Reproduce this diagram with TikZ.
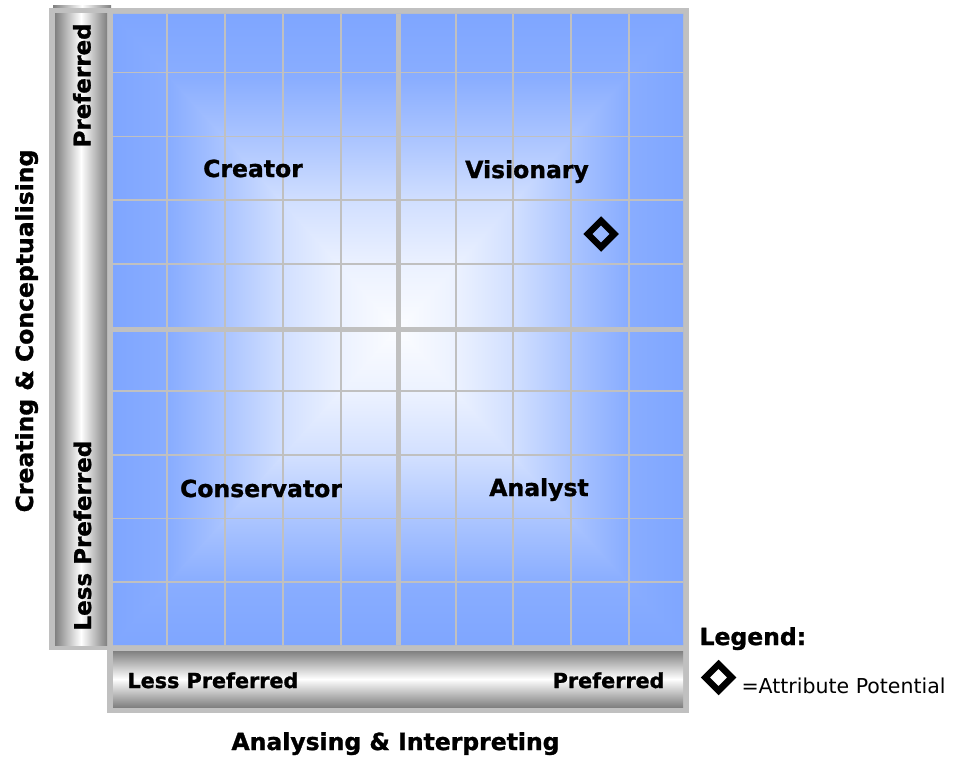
\documentclass[tikz,border=0pt]{standalone}
\usepackage{fontspec}
\setmainfont{DejaVu Sans}[BoldFeatures={FakeBold=1.2}]
\usepackage{tikz}
\usetikzlibrary{shapes.geometric}
\definecolor{planblue}{RGB}{127,166,255}
\definecolor{framegrey}{RGB}{192,192,192}
\definecolor{bargrey}{RGB}{128,128,128}
\pgfdeclarehorizontalshading{fieldleft}{100bp}{color(0bp)=(planblue); color(25bp)=(planblue);
  color(35bp)=(planblue!92!white); color(45bp)=(planblue!65!white); color(55bp)=(planblue!35!white);
  color(65bp)=(planblue!15!white); color(75bp)=(planblue!3!white); color(100bp)=(planblue!3!white)}
\pgfdeclarehorizontalshading{fieldright}{100bp}{color(0bp)=(planblue!3!white); color(25bp)=(planblue!3!white);
  color(35bp)=(planblue!15!white); color(45bp)=(planblue!35!white); color(55bp)=(planblue!65!white);
  color(65bp)=(planblue!92!white); color(75bp)=(planblue); color(100bp)=(planblue)}
\pgfdeclareverticalshading{fieldtop}{100bp}{color(0bp)=(planblue!3!white); color(25bp)=(planblue!3!white);
  color(35bp)=(planblue!15!white); color(45bp)=(planblue!35!white); color(55bp)=(planblue!65!white);
  color(65bp)=(planblue!92!white); color(75bp)=(planblue); color(100bp)=(planblue)}
\pgfdeclareverticalshading{fieldbottom}{100bp}{color(0bp)=(planblue); color(25bp)=(planblue);
  color(35bp)=(planblue!92!white); color(45bp)=(planblue!65!white); color(55bp)=(planblue!35!white);
  color(65bp)=(planblue!15!white); color(75bp)=(planblue!3!white); color(100bp)=(planblue!3!white)}
\tikzset{every picture/.style={x=1pt,y=-1pt},
  gridline/.style={draw=framegrey,line width=1.8pt},
  midline/.style={draw=framegrey,line width=5pt},
  marker/.style={diamond,draw=black,line width=6.5pt,minimum width=29pt,minimum height=29pt,inner sep=0pt}}

\begin{document}
\begin{tikzpicture}
\fill[white] (0,0) rectangle (957,758);

% frame
\fill[framegrey] (49,8) rectangle (689,650);
\fill[framegrey] (107,645) rectangle (689,713);

% field, lighter towards the middle
\coordinate (M) at (398,329.5);
\begin{scope}
\clip (113,14) -- (M) -- (113,645) -- cycle;
\shade[shading=fieldleft] (113,14) rectangle (398,645);
\end{scope}
\begin{scope}
\clip (683,14) -- (M) -- (683,645) -- cycle;
\shade[shading=fieldright] (398,14) rectangle (683,645);
\end{scope}
\begin{scope}
\clip (111,14) -- (685,14) -- (398,332) -- cycle;
\shade[shading=fieldtop] (113,14) rectangle (683,329.5);
\end{scope}
\begin{scope}
\clip (111,645) -- (685,645) -- (398,327) -- cycle;
\shade[shading=fieldbottom] (113,329.5) rectangle (683,645);
\end{scope}

\foreach \x in {167,225,283,341,456,513,571,629}
  \draw[gridline] (\x,14) -- (\x,645);
\foreach \y in {72.5,136.5,200,264,391,455,518.5,582}
  \draw[gridline] (113,\y) -- (683,\y);
\draw[midline] (398,14) -- (398,645);
\draw[midline] (113,329) -- (683,329);

% scale bars
\shade[left color=bargrey,right color=bargrey,middle color=white] (53,6) rectangle (111,8);
\shade[left color=bargrey,right color=bargrey,middle color=white] (55,14) rectangle (107,645);
\shade[top color=bargrey,bottom color=bargrey,middle color=white] (113,651) rectangle (683,707);

\begin{scope}[every node/.style={font=\bfseries\fontsize{23.5}{28}\selectfont,anchor=base}]
\node (creator) at (253,177) {Creator};
\node (visionary) at (527,178) {Visionary};
\node (conservator) at (261,497) {Conservator};
\node (analyst) at (539,496) {Analyst};
\node (xtitle) at (395.5,750) {Analysing \& Interpreting};
\node[rotate=90] (ytitle) at (33,331) {Creating \& Conceptualising};
\node[anchor=base west] (legend) at (696,645) {Legend:};
\end{scope}

\begin{scope}[every node/.style={font=\bfseries\fontsize{20.7}{25}\selectfont}]
\node[anchor=base west] (xlow) at (124,688) {Less Preferred};
\node[anchor=base east] (xhigh) at (668,688) {Preferred};
\end{scope}

\begin{scope}[every node/.style={font=\bfseries\fontsize{23}{28}\selectfont,rotate=90,anchor=base west}]
\node (ylow) at (91,634) {Less Preferred};
\node (yhigh) at (90.5,151) {Preferred};
\end{scope}

\node[marker] (potential) at (601,234) {};
\node[marker] (legendmark) at (718.5,677.5) {};
\node[anchor=base west,font=\fontsize{20.5}{25}\selectfont] (legendtext) at (738,693) {=Attribute Potential};
\end{tikzpicture}
\end{document}
